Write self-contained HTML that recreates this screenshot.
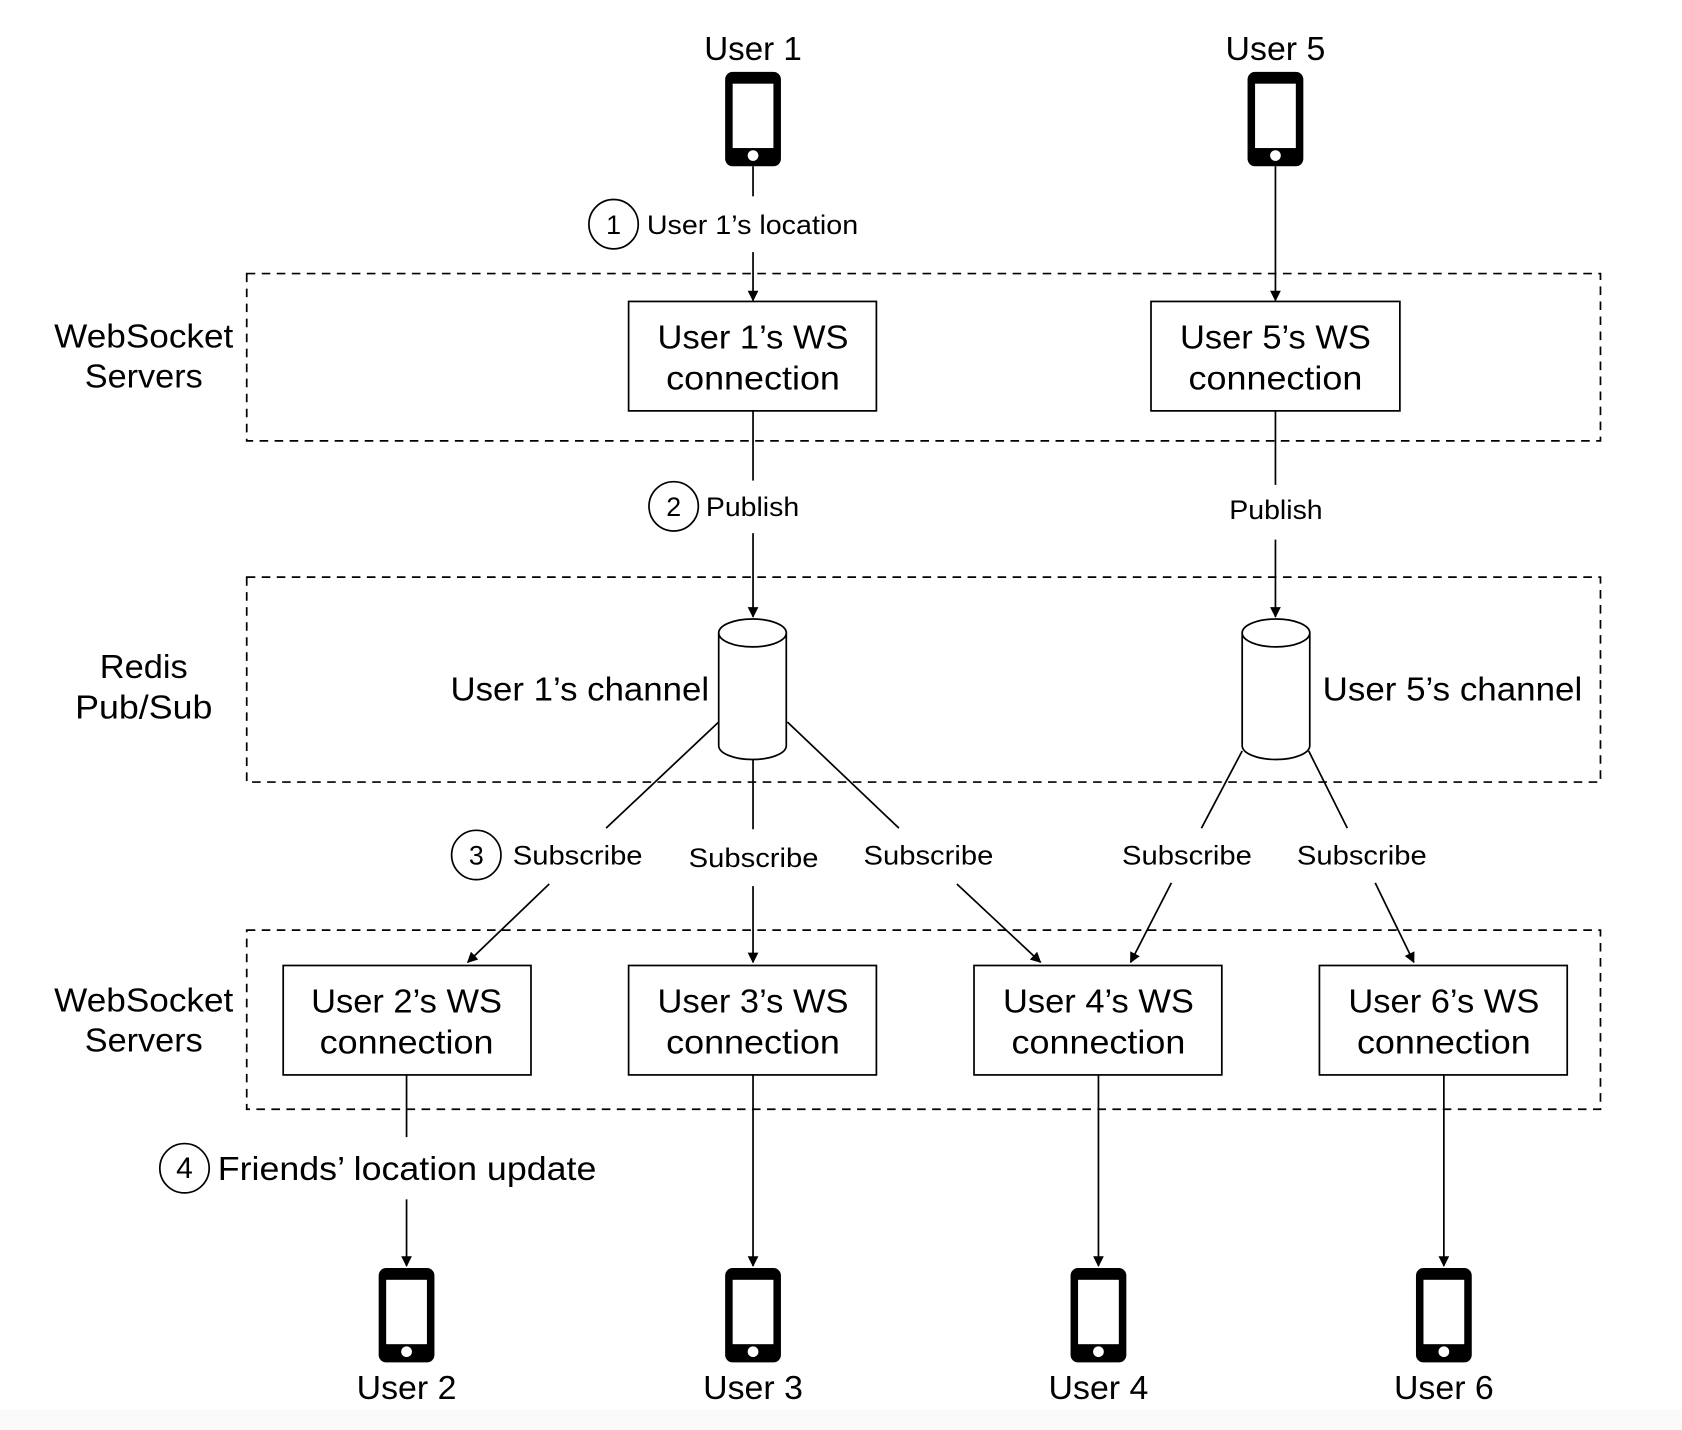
<!DOCTYPE html>
<html><head><meta charset="utf-8"><style>
html,body{margin:0;padding:0;background:#fff;}
svg{display:block;}
text{font-family:"Liberation Sans",sans-serif;fill:#000;}
</style></head><body>
<svg width="1682" height="1430" viewBox="0 0 1568 1333" preserveAspectRatio="none" xmlns="http://www.w3.org/2000/svg">
<defs>
<marker id="a" markerWidth="10" markerHeight="10" refX="9" refY="5" orient="auto" markerUnits="userSpaceOnUse" viewBox="0 0 10 10">
<path d="M0,0 L10,5 L0,10 z" fill="#000"/></marker>
<g id="ph">
<rect x="-26" y="0" width="52" height="88" rx="7" fill="#000"/>
<rect x="-19" y="11" width="38" height="60" fill="#fff"/>
<circle cx="0" cy="78" r="5" fill="#fff"/>
</g>
</defs>
<rect x="0" y="1314" width="1568" height="19" fill="#fafafa"/>
<g fill="none" stroke="#000" stroke-width="1.6" stroke-dasharray="8,6">
<rect x="230" y="255" width="1262" height="156"/>
<rect x="230" y="538" width="1262" height="191"/>
<rect x="230" y="867" width="1262" height="167"/>
</g>
<g font-size="31" text-anchor="middle" lengthAdjust="spacingAndGlyphs">
<text x="702" y="56" textLength="91" lengthAdjust="spacingAndGlyphs">User 1</text>
<text x="1189" y="56" textLength="93" lengthAdjust="spacingAndGlyphs">User 5</text>
<text x="134" y="324" textLength="167" lengthAdjust="spacingAndGlyphs">WebSocket</text><text x="134" y="361" textLength="110" lengthAdjust="spacingAndGlyphs">Servers</text>
<text x="134" y="632" textLength="82" lengthAdjust="spacingAndGlyphs">Redis</text><text x="134" y="670" textLength="128" lengthAdjust="spacingAndGlyphs">Pub/Sub</text>
<text x="134" y="943" textLength="167" lengthAdjust="spacingAndGlyphs">WebSocket</text><text x="134" y="980" textLength="110" lengthAdjust="spacingAndGlyphs">Servers</text>
<text x="379" y="1304" textLength="93" lengthAdjust="spacingAndGlyphs">User 2</text>
<text x="702" y="1304" textLength="93" lengthAdjust="spacingAndGlyphs">User 3</text>
<text x="1024" y="1304" textLength="93" lengthAdjust="spacingAndGlyphs">User 4</text>
<text x="1346" y="1304" textLength="93" lengthAdjust="spacingAndGlyphs">User 6</text>
</g>
<use href="#ph" x="702" y="67"/><use href="#ph" x="1189" y="67"/>
<use href="#ph" x="379" y="1182"/><use href="#ph" x="702" y="1182"/>
<use href="#ph" x="1024" y="1182"/><use href="#ph" x="1346" y="1182"/>
<g fill="#fff" stroke="#000" stroke-width="1.6">
<rect x="586" y="281" width="231" height="102"/>
<rect x="1073" y="281" width="232" height="102"/>
<rect x="264" y="900" width="231" height="102"/>
<rect x="586" y="900" width="231" height="102"/>
<rect x="908" y="900" width="231" height="102"/>
<rect x="1230" y="900" width="231" height="102"/>
</g>
<g font-size="31" text-anchor="middle">
<text x="702" y="325" textLength="178" lengthAdjust="spacingAndGlyphs">User 1’s WS</text><text x="702" y="363" textLength="162" lengthAdjust="spacingAndGlyphs">connection</text>
<text x="1189" y="325" textLength="178" lengthAdjust="spacingAndGlyphs">User 5’s WS</text><text x="1189" y="363" textLength="162" lengthAdjust="spacingAndGlyphs">connection</text>
<text x="379" y="944" textLength="178" lengthAdjust="spacingAndGlyphs">User 2’s WS</text><text x="379" y="982" textLength="162" lengthAdjust="spacingAndGlyphs">connection</text>
<text x="702" y="944" textLength="178" lengthAdjust="spacingAndGlyphs">User 3’s WS</text><text x="702" y="982" textLength="162" lengthAdjust="spacingAndGlyphs">connection</text>
<text x="1024" y="944" textLength="178" lengthAdjust="spacingAndGlyphs">User 4’s WS</text><text x="1024" y="982" textLength="162" lengthAdjust="spacingAndGlyphs">connection</text>
<text x="1346" y="944" textLength="178" lengthAdjust="spacingAndGlyphs">User 6’s WS</text><text x="1346" y="982" textLength="162" lengthAdjust="spacingAndGlyphs">connection</text>
</g>
<g fill="#fff" stroke="#000" stroke-width="1.6">
<path d="M670,590 L670,695 A31.5,13 0 0 0 733,695 L733,590"/>
<ellipse cx="701.5" cy="590" rx="31.5" ry="13"/>
<path d="M1158,590 L1158,695 A31.5,13 0 0 0 1221,695 L1221,590"/>
<ellipse cx="1189.5" cy="590" rx="31.5" ry="13"/>
</g>
<text x="420" y="653" font-size="31" textLength="241" lengthAdjust="spacingAndGlyphs">User 1’s channel</text>
<text x="1233" y="653" font-size="31" textLength="242" lengthAdjust="spacingAndGlyphs">User 5’s channel</text>
<g stroke="#000" stroke-width="1.6" fill="none">
<line x1="702" y1="155" x2="702" y2="183"/>
<line x1="702" y1="235" x2="702" y2="280" marker-end="url(#a)"/>
<line x1="1189" y1="155" x2="1189" y2="280" marker-end="url(#a)"/>
<line x1="702" y1="383" x2="702" y2="448"/>
<line x1="702" y1="497" x2="702" y2="575" marker-end="url(#a)"/>
<line x1="1189" y1="383" x2="1189" y2="452"/>
<line x1="1189" y1="503" x2="1189" y2="575" marker-end="url(#a)"/>
<line x1="670" y1="673" x2="565" y2="772"/>
<line x1="702" y1="708" x2="702" y2="773"/>
<line x1="734" y1="673" x2="838" y2="772"/>
<line x1="512" y1="824" x2="436" y2="897" marker-end="url(#a)"/>
<line x1="702" y1="826" x2="702" y2="897" marker-end="url(#a)"/>
<line x1="892" y1="824" x2="970" y2="897" marker-end="url(#a)"/>
<line x1="1158" y1="700" x2="1120" y2="772"/>
<line x1="1220" y1="700" x2="1256" y2="772"/>
<line x1="1092" y1="823" x2="1054" y2="897" marker-end="url(#a)"/>
<line x1="1282" y1="823" x2="1318" y2="897" marker-end="url(#a)"/>
<line x1="379" y1="1002" x2="379" y2="1060"/>
<line x1="379" y1="1118" x2="379" y2="1180" marker-end="url(#a)"/>
<line x1="702" y1="1002" x2="702" y2="1180" marker-end="url(#a)"/>
<line x1="1024" y1="1002" x2="1024" y2="1180" marker-end="url(#a)"/>
<line x1="1346" y1="1002" x2="1346" y2="1180" marker-end="url(#a)"/>
<circle cx="572" cy="209" r="23"/>
<circle cx="628" cy="472" r="23"/>
<circle cx="444" cy="797" r="23"/>
<circle cx="172" cy="1089" r="23"/>
</g>
<g font-size="25">
<text x="572" y="218" text-anchor="middle">1</text>
<text x="628" y="481" text-anchor="middle">2</text>
<text x="444" y="806" text-anchor="middle">3</text>
<text x="172" y="1098" text-anchor="middle" font-size="28">4</text>
<text x="603" y="218" textLength="197" lengthAdjust="spacingAndGlyphs">User 1’s location</text>
<text x="658" y="481" textLength="87" lengthAdjust="spacingAndGlyphs">Publish</text>
<text x="1146" y="484" textLength="87" lengthAdjust="spacingAndGlyphs">Publish</text>
<text x="478" y="806" textLength="121" lengthAdjust="spacingAndGlyphs">Subscribe</text>
<text x="642" y="808" textLength="121" lengthAdjust="spacingAndGlyphs">Subscribe</text>
<text x="805" y="806" textLength="121" lengthAdjust="spacingAndGlyphs">Subscribe</text>
<text x="1046" y="806" textLength="121" lengthAdjust="spacingAndGlyphs">Subscribe</text>
<text x="1209" y="806" textLength="121" lengthAdjust="spacingAndGlyphs">Subscribe</text>
</g>
<text x="203" y="1100" font-size="31" textLength="353" lengthAdjust="spacingAndGlyphs">Friends’ location update</text>
</svg>
</body></html>
